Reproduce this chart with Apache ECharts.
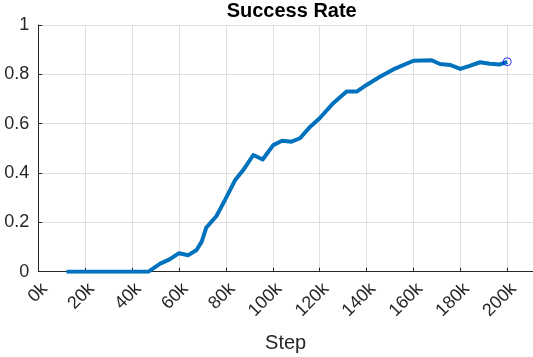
<!DOCTYPE html>
<html>
<head>
<meta charset="utf-8">
<script src="https://cdn.jsdelivr.net/npm/echarts@6/dist/echarts.min.js"></script>
<style>html,body{margin:0;padding:0;background:#fff;}#c{width:533px;height:357px;}</style>
</head>
<body>
<div id="c"></div>
<script>
var titleText = 'Success Rate';
var xName = 'Step';
var xTicks = [0, 20, 40, 60, 80, 100, 120, 140, 160, 180, 200];
var yTicks = [0, 0.2, 0.4, 0.6, 0.8, 1];
var steps = [12, 47, 52, 56, 60, 64, 67.5, 69.7, 71.6, 76, 79.6, 84, 87.4, 91.7, 95.7, 100.2, 104, 108, 111.6, 116, 120, 125.8, 131.5, 135.8, 140, 145.7, 151.4, 160, 167.8, 171.3, 175.6, 180, 184, 188.4, 192.6, 196.9, 200];
var rates = [0, 0, 0.033, 0.05, 0.075, 0.067, 0.088, 0.122, 0.178, 0.226, 0.29, 0.372, 0.412, 0.473, 0.455, 0.513, 0.531, 0.527, 0.541, 0.588, 0.622, 0.683, 0.73, 0.73, 0.757, 0.79, 0.82, 0.855, 0.857, 0.842, 0.838, 0.822, 0.834, 0.849, 0.843, 0.84, 0.851];

var lineData = steps.map(function (s, i) { return [s, rates[i]]; });
var last = lineData[lineData.length - 1];

var chart = echarts.init(document.getElementById('c'), null, {renderer: 'canvas'});
chart.setOption({
  animation: false,
  backgroundColor: '#ffffff',
  title: {
    text: titleText,
    left: 291.7,
    textAlign: 'center',
    top: 1,
    padding: 0,
    textStyle: {fontFamily: 'Liberation Sans', fontSize: 20, fontWeight: 'bold', color: '#000000'}
  },
  grid: {left: 38.3, right: 0, top: 25, bottom: 85.3, containLabel: false, outerBoundsMode: 'none'},
  xAxis: {
    type: 'value',
    min: 0,
    max: 211,
    interval: 20,
    name: xName,
    nameLocation: 'middle',
    nameGap: 62,
    nameTextStyle: {fontFamily: 'Liberation Sans', fontSize: 20, color: '#262626'},
    axisLine: {show: true, onZero: false, lineStyle: {color: '#262626', width: 1}},
    axisTick: {show: true, inside: true, length: 4, lineStyle: {color: '#262626'}},
    axisLabel: {
      rotate: 45,
      margin: 8,
      verticalAlign: 'top',
      fontFamily: 'Liberation Sans',
      fontSize: 18,
      color: '#262626',
      formatter: function (v) { return xTicks.indexOf(v) >= 0 ? v + 'k' : ''; }
    },
    splitLine: {show: true, lineStyle: {color: '#dfdfdf', width: 1}}
  },
  yAxis: {
    type: 'value',
    min: 0,
    max: 1,
    interval: 0.2,
    axisLine: {show: true, lineStyle: {color: '#262626', width: 1}},
    axisTick: {show: true, inside: true, length: 4, lineStyle: {color: '#262626'}},
    axisLabel: {
      margin: 9,
      fontFamily: 'Liberation Sans',
      fontSize: 18,
      color: '#262626',
      formatter: function (v) { return yTicks.indexOf(v) >= 0 ? String(v) : ''; }
    },
    splitLine: {show: true, lineStyle: {color: '#dfdfdf', width: 1}}
  },
  series: [
    {
      type: 'line',
      data: lineData,
      showSymbol: false,
      symbol: 'none',
      lineStyle: {color: '#0072BD', width: 4, cap: 'butt', join: 'round'},
      z: 3
    },
    {
      type: 'scatter',
      data: [last],
      symbol: 'circle',
      symbolSize: 8,
      itemStyle: {color: 'rgba(0,0,0,0)', borderColor: '#0000FF', borderWidth: 1},
      z: 4
    }
  ]
});
</script>
</body>
</html>
